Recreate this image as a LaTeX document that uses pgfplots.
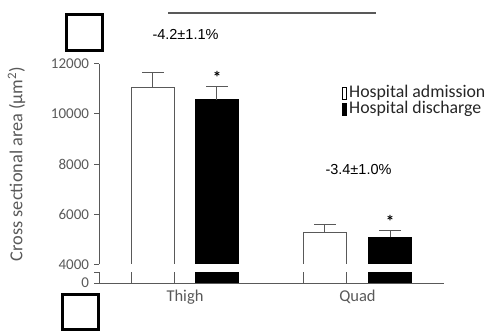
\documentclass[border=0pt]{standalone}
\usepackage{fontspec}
\setmainfont{Carlito}
\newfontfamily\arialfont{Liberation Sans}
\usepackage{pgfplots}
\usepackage{pgfplotstable}
\pgfplotsset{compat=1.18}
\definecolor{axisgray}{RGB}{89,89,89}

\pgfplotstableread{
x y err
53.5 11060 585
225.5 5267 317
}\admission
\pgfplotstableread{
x y err
117.5 10562 515
290.5 5081 280
}\discharge

\pgfplotsset{
  brk/.style={
    scale only axis, width=344pt, xmin=0, xmax=344,
    axis line style={axisgray, line width=0.8pt},
    tick style={axisgray, line width=0.8pt},
    tick align=outside, major tick length=5pt,
    /pgf/number format/assume math mode=true,
    /pgf/number format/1000 sep={},
    scaled y ticks=false,
    yticklabel style={font=\fontsize{15}{15}\selectfont, text=axisgray, xshift=-2pt},
    clip=true,
  },
  adm/.style={ybar, bar width=43, bar shift=0pt, fill=white, draw=axisgray, line width=0.9pt,
    legend image code/.code={\draw[fill=white, draw=black, line width=0.7pt] (0pt,-6pt) rectangle (4.5pt,6pt);},
    error bars/.cd, y dir=plus, y explicit, error mark=|,
    error bar style={axisgray, line width=1pt},
    error mark options={axisgray, mark size=10.8pt, line width=1pt}, /pgfplots/.cd},
  dis/.style={ybar, bar width=43, bar shift=0pt, fill=black, draw=black, line width=0.9pt,
    legend image code/.code={\draw[fill=black, draw=black, line width=0.7pt] (0pt,-6pt) rectangle (4.5pt,6pt);},
    error bars/.cd, y dir=plus, y explicit, error mark=|,
    error bar style={axisgray, line width=1pt},
    error mark options={axisgray, mark size=10.8pt, line width=1pt}, /pgfplots/.cd},
}

\begin{document}
\begin{tikzpicture}
\useasboundingbox (0,0) rectangle (499pt,331pt);

% upper part of the broken axis
\begin{axis}[brk,
  at={(99.5pt,66.5pt)}, anchor=south west, height=201pt,
  ymin=4000, ymax=12000, ytick={4000,6000,8000,10000,12000},
  axis x line=none, axis y line*=left, xtick=\empty,
  ylabel={Cross sectional area (µm\textsuperscript{2})},
  ylabel style={at={(axis description cs:-0.241,0.5)}, anchor=center,
    font=\fontsize{18.3}{18.3}\selectfont, text=axisgray},
  legend style={at={(0.7035,0.892)}, anchor=north west, draw=none, fill=none,
    inner sep=0pt, outer sep=0pt, font=\fontsize{17.8}{17.8}\selectfont, text=black!85,
    row sep=0pt, nodes={inner ysep=0pt, inner xsep=2.5pt, text height=12.5pt, text depth=3.7pt}},
  legend cell align=left,
]
\addplot[adm] table[x=x, y=y, y error=err] {\admission};
\addlegendentry{Hospital admission}
\addplot[dis] table[x=x, y=y, y error=err] {\discharge};
\addlegendentry{Hospital discharge}
% white mask hiding the bars' bottom edges at the axis break
\addplot[forget plot, white, line width=1.6pt] coordinates {(3,4000) (343,4000)};
\node[anchor=base, font=\bfseries\fontsize{17}{17}\selectfont] at (axis cs:117.5,11200) {*};
\node[anchor=base, font=\bfseries\fontsize{17}{17}\selectfont] at (axis cs:290.5,5480) {*};
\end{axis}

% lower part of the broken axis
\begin{axis}[brk,
  at={(99.5pt,48pt)}, anchor=south west, height=10.5pt,
  ymin=0, ymax=420, ytick={0,420}, yticklabels={0,},
  axis x line*=bottom, axis y line*=left,
  xtick={85.5,258}, xticklabels={Thigh,Quad},
  xtick style={draw=none},
  xticklabel style={font=\fontsize{16.5}{16.5}\selectfont, text=axisgray, yshift=1pt},
]
\addplot[forget plot, adm] table[x=x, y=y, y error=err] {\admission};
\addplot[forget plot, dis] table[x=x, y=y, y error=err] {\discharge};
\end{axis}

% annotations
\node[font=\arialfont\fontsize{14.5}{14.5}\selectfont, text=black] at (185.5pt,297pt) {-4.2±1.1\%};
\node[font=\arialfont\fontsize{14.5}{14.5}\selectfont, text=black] at (358.5pt,161pt) {-3.4±1.0\%};
\draw[axisgray, line width=1.3pt] (168pt,318pt) -- (376pt,318pt);
\draw[black, line width=2.6pt] (66.3pt,280.3pt) rectangle (102.7pt,316.7pt);
\draw[black, line width=2.6pt] (62.3pt,1.3pt) rectangle (98.7pt,36.7pt);
\end{tikzpicture}
\end{document}
